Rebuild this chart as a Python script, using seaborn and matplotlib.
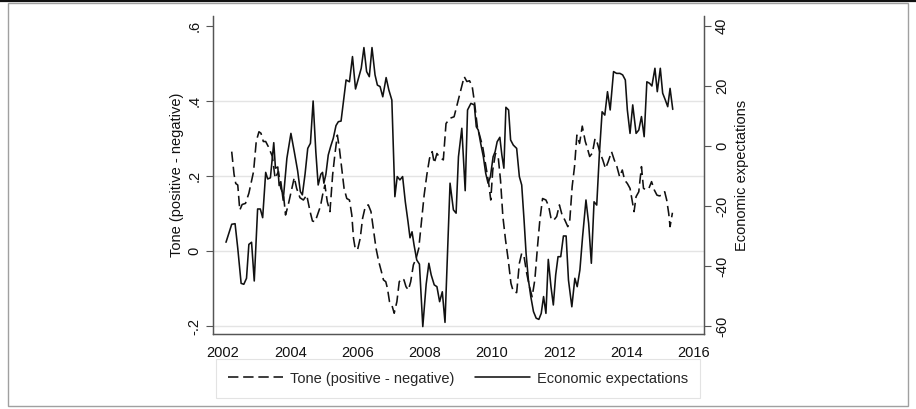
import matplotlib
matplotlib.use("Agg")
import matplotlib.pyplot as plt
from matplotlib.patches import Rectangle
from matplotlib.lines import Line2D
import pandas as pd
import seaborn as sns

# ---- data -----------------------------------------------------------------
TONE_LABEL = "Tone (positive - negative)"
EXPECT_LABEL = "Economic expectations"

tone_year = [
    2002.26, 2002.33, 2002.38, 2002.44, 2002.50, 2002.57, 2002.67, 2002.77,
    2002.91, 2002.99, 2003.07, 2003.13, 2003.20, 2003.27, 2003.35, 2003.47,
    2003.55, 2003.65, 2003.72, 2003.80, 2003.86, 2003.94, 2004.04, 2004.12,
    2004.19, 2004.29, 2004.39, 2004.49, 2004.59, 2004.66, 2004.74, 2004.81,
    2004.90, 2004.96, 2005.03, 2005.10, 2005.18, 2005.26, 2005.33, 2005.40,
    2005.46, 2005.53, 2005.60, 2005.68, 2005.76, 2005.83, 2005.88, 2005.93,
    2006.00, 2006.08, 2006.15, 2006.23, 2006.32, 2006.40, 2006.47, 2006.55,
    2006.63, 2006.71, 2006.77, 2006.84, 2006.89, 2006.95, 2007.02, 2007.09,
    2007.17, 2007.24, 2007.32, 2007.38, 2007.44, 2007.51, 2007.58, 2007.66,
    2007.74, 2007.82, 2007.90, 2007.98, 2008.06, 2008.14, 2008.22, 2008.28,
    2008.36, 2008.44, 2008.55, 2008.63, 2008.75, 2008.87, 2008.97, 2009.07,
    2009.17, 2009.25, 2009.33, 2009.41, 2009.48, 2009.56, 2009.64, 2009.72,
    2009.80, 2009.90, 2009.96, 2010.02, 2010.10, 2010.18, 2010.25, 2010.32,
    2010.40, 2010.48, 2010.56, 2010.63, 2010.73, 2010.81, 2010.88, 2010.95,
    2011.03, 2011.11, 2011.19, 2011.27, 2011.35, 2011.42, 2011.50, 2011.60,
    2011.68, 2011.76, 2011.84, 2011.92, 2012.00, 2012.08, 2012.16, 2012.25,
    2012.31, 2012.38, 2012.45, 2012.52, 2012.60, 2012.68, 2012.77, 2012.82,
    2012.90, 2012.98, 2013.06, 2013.13, 2013.21, 2013.29, 2013.37, 2013.45,
    2013.55, 2013.63, 2013.71, 2013.79, 2013.87, 2013.94, 2014.02, 2014.10,
    2014.16, 2014.22, 2014.28, 2014.36, 2014.44, 2014.50, 2014.58, 2014.66,
    2014.74, 2014.82, 2014.90, 2014.97, 2015.05, 2015.13, 2015.19, 2015.25,
    2015.29, 2015.36,
]
tone_value = [
    0.265, 0.204, 0.180, 0.176, 0.109, 0.124, 0.127, 0.154,
    0.212, 0.293, 0.318, 0.314, 0.292, 0.292, 0.278, 0.252,
    0.194, 0.212, 0.167, 0.149, 0.096, 0.123, 0.163, 0.196,
    0.167, 0.142, 0.136, 0.149, 0.105, 0.080, 0.078, 0.096,
    0.120, 0.149, 0.176, 0.132, 0.105, 0.203, 0.260, 0.309,
    0.274, 0.220, 0.167, 0.140, 0.136, 0.096, 0.034, 0.007,
    0.003, 0.034, 0.087, 0.118, 0.123, 0.105, 0.060, 0.007,
    -0.028, -0.055, -0.077, -0.082, -0.100, -0.135, -0.144, -0.166,
    -0.135, -0.082, -0.073, -0.077, -0.095, -0.104, -0.082, -0.037,
    -0.020, 0.007, 0.078, 0.149, 0.203, 0.247, 0.265, 0.234,
    0.260, 0.250, 0.243, 0.340, 0.354, 0.358, 0.394, 0.429,
    0.465, 0.452, 0.454, 0.438, 0.394, 0.332, 0.305, 0.278,
    0.234, 0.180, 0.136, 0.216, 0.260, 0.252, 0.189, 0.092,
    0.029, -0.024, -0.086, -0.108, -0.111, -0.033, -0.006, -0.015,
    -0.060, -0.095, -0.122, -0.077, 0.012, 0.083, 0.140, 0.136,
    0.120, 0.083, 0.083, 0.092, 0.123, 0.096, 0.083, 0.065,
    0.083, 0.172, 0.225, 0.309, 0.287, 0.333, 0.292, 0.278,
    0.252, 0.261, 0.300, 0.287, 0.261, 0.243, 0.220, 0.238,
    0.265, 0.243, 0.225, 0.198, 0.216, 0.189, 0.180, 0.167,
    0.136, 0.105, 0.145, 0.158, 0.225, 0.167, 0.163, 0.167,
    0.185, 0.163, 0.149, 0.147, 0.149, 0.158, 0.136, 0.100,
    0.065, 0.102,
]

expect_year = [
    2002.09, 2002.26, 2002.36, 2002.44, 2002.54, 2002.62, 2002.70, 2002.77,
    2002.85, 2002.93, 2003.03, 2003.11, 2003.18, 2003.27, 2003.33, 2003.41,
    2003.51, 2003.56, 2003.63, 2003.67, 2003.72, 2003.79, 2003.90, 2004.02,
    2004.12, 2004.22, 2004.30, 2004.36, 2004.44, 2004.52, 2004.60, 2004.68,
    2004.76, 2004.83, 2004.91, 2004.96, 2005.00, 2005.06, 2005.13, 2005.20,
    2005.28, 2005.36, 2005.43, 2005.51, 2005.58, 2005.66, 2005.76, 2005.85,
    2005.94, 2006.03, 2006.11, 2006.19, 2006.27, 2006.35, 2006.43, 2006.52,
    2006.59, 2006.67, 2006.75, 2006.85, 2006.93, 2007.02, 2007.11, 2007.18,
    2007.26, 2007.34, 2007.42, 2007.50, 2007.56, 2007.62, 2007.68, 2007.76,
    2007.84, 2007.94, 2008.04, 2008.12, 2008.19, 2008.28, 2008.36, 2008.44,
    2008.52, 2008.60, 2008.75, 2008.85, 2008.93, 2009.00, 2009.10, 2009.20,
    2009.27, 2009.37, 2009.47, 2009.53, 2009.59, 2009.66, 2009.74, 2009.81,
    2009.88, 2009.95, 2010.03, 2010.09, 2010.15, 2010.23, 2010.29, 2010.35,
    2010.41, 2010.49, 2010.55, 2010.63, 2010.73, 2010.81, 2010.88, 2010.95,
    2011.01, 2011.08, 2011.15, 2011.23, 2011.31, 2011.39, 2011.46, 2011.53,
    2011.60, 2011.67, 2011.75, 2011.82, 2011.89, 2011.96, 2012.04, 2012.12,
    2012.20, 2012.27, 2012.37, 2012.46, 2012.53, 2012.61, 2012.69, 2012.79,
    2012.87, 2012.95, 2013.03, 2013.11, 2013.19, 2013.27, 2013.35, 2013.43,
    2013.51, 2013.61, 2013.70, 2013.80, 2013.88, 2013.96, 2014.02, 2014.10,
    2014.18, 2014.28, 2014.36, 2014.44, 2014.52, 2014.60, 2014.68, 2014.75,
    2014.84, 2014.91, 2015.00, 2015.07, 2015.15, 2015.22, 2015.29, 2015.37,
]
expect_value = [
    -32.1, -26.1, -25.9, -34.1, -45.8, -46.1, -44.1, -32.8,
    -32.1, -45.0, -21.0, -21.0, -23.9, -8.8, -11.0, -10.6,
    1.1, -7.4, -7.0, -13.2, -11.9, -18.1, -4.1, 4.2,
    -1.9, -8.3, -15.2, -16.3, -9.4, -0.8, 0.9, 15.0,
    -1.9, -13.0, -9.4, -8.8, -12.4, -9.4, -3.0, -0.2,
    2.6, 6.8, 8.1, 8.3, 14.8, 22.0, 21.4, 29.8,
    19.0, 22.6, 25.9, 32.8, 24.8, 23.1, 32.8, 23.7,
    20.3, 19.8, 16.4, 22.8, 18.7, 15.3, -16.9, -10.2,
    -11.3, -10.2, -18.6, -25.2, -30.6, -28.6, -33.0, -38.0,
    -39.4, -60.2, -46.1, -39.1, -43.0, -46.3, -46.9, -51.9,
    -48.6, -58.8, -12.4, -21.3, -22.4, -3.6, 5.9, -14.9,
    12.0, 14.2, 13.7, 6.4, 5.3, 0.9, -3.6, -9.1,
    -12.4, -10.2, -3.6, -1.9, 1.4, 2.9, -3.0, -7.4,
    12.9, 12.0, 2.0, 0.3, -0.8, -10.2, -13.0, -24.7,
    -35.8, -44.7, -50.2, -55.2, -57.4, -57.8, -55.8, -50.2,
    -55.8, -37.8, -46.9, -53.0, -43.0, -36.9, -36.9, -30.0,
    -30.0, -44.7, -53.6, -44.1, -46.9, -41.3, -30.2, -18.0,
    -25.8, -39.1, -18.6, -19.7, -2.4, 11.4, 10.3, 18.1,
    12.0, 24.8, 24.2, 24.2, 23.7, 22.0, 12.0, 4.2,
    13.7, 4.2, 5.3, 9.8, 3.1, 21.4, 20.9, 20.0,
    25.9, 18.1, 25.9, 17.6, 15.3, 13.1, 19.2, 12.2,
]

year_ticks = [2002, 2004, 2006, 2008, 2010, 2012, 2014, 2016]
tone_ticks = [-0.2, 0.0, 0.2, 0.4, 0.6]
tone_ticklabels = ["-.2", "0", ".2", ".4", ".6"]
expect_ticks = [-60, -40, -20, 0, 20, 40]
expect_ticklabels = ["-60", "-40", "-20", "0", "20", "40"]

# ---- style ----------------------------------------------------------------
sns.set_theme(style="white")
plt.rcParams["font.family"] = ["Liberation Sans", "DejaVu Sans"]
FS = 10.5
INK = "#111111"
SPINE = "#555555"
LW = 1.15

tone_df = pd.DataFrame({"year": tone_year, "tone": tone_value})
expect_df = pd.DataFrame({"year": expect_year, "expect": expect_value})

fig = plt.figure(figsize=(9.16, 4.09), dpi=100)
fig.patch.set_facecolor("white")
ax = fig.add_axes([0.2325, 0.1834, 0.536, 0.7775])
ax2 = ax.twinx()

# light horizontal grid on the left scale
for t in tone_ticks[:-1]:
    ax.axhline(t, color="#e4e4e4", linewidth=1.0, zorder=0)

sns.lineplot(data=tone_df, x="year", y="tone", ax=ax, color=INK,
             linewidth=LW, estimator=None, sort=False, legend=False)
tone_line = ax.lines[-1]
tone_line.set_linestyle((0, (6.5, 3)))

sns.lineplot(data=expect_df, x="year", y="expect", ax=ax2, color=INK,
             linewidth=LW, estimator=None, sort=False, legend=False)
expect_line = ax2.lines[-1]

ax.set_xlim(2001.703, 2016.297)
ax.set_ylim(-0.2213, 0.6267)
ax2.set_ylim(-62.67, 43.33)

ax.set_xticks(year_ticks)
ax.set_xticklabels([str(y) for y in year_ticks], fontsize=FS, color=INK)
ax.set_yticks(tone_ticks)
ax.set_yticklabels(tone_ticklabels, rotation=90, va="center", fontsize=FS, color=INK)
ax2.set_yticks(expect_ticks)
ax2.set_yticklabels(expect_ticklabels, rotation=90, va="center", fontsize=FS, color=INK)

ax.set_xlabel("")
ax.set_ylabel(TONE_LABEL, fontsize=FS, color=INK, labelpad=3)
ax2.set_ylabel(EXPECT_LABEL, fontsize=FS, color=INK, rotation=90, labelpad=4)

for a in (ax, ax2):
    a.tick_params(axis="both", direction="out", length=5, width=0.8,
                  color=SPINE, pad=3)
    a.spines["top"].set_visible(False)
    for s in ("left", "right", "bottom"):
        a.spines[s].set_color(SPINE)
        a.spines[s].set_linewidth(0.9)
    a.grid(False)
ax.tick_params(axis="x", pad=4)
ax.set_facecolor("white")

leg = fig.legend([tone_line, expect_line], [TONE_LABEL, EXPECT_LABEL],
                 loc="center", bbox_to_anchor=(0.5, 0.0745), ncol=2,
                 frameon=True, fancybox=False, fontsize=FS,
                 handlelength=3.8, handletextpad=0.45, columnspacing=1.4,
                 borderpad=0.85)
leg.get_frame().set_edgecolor("#dcdcdc")
leg.get_frame().set_linewidth(0.8)

# outer frame of the graph region
fig.add_artist(Rectangle((8 / 916, 3 / 409), 900 / 916, 403 / 409,
                         transform=fig.transFigure, fill=False,
                         edgecolor="#a0a0a0", linewidth=1.0))
fig.add_artist(Line2D([0, 1], [1 - 1.2 / 409] * 2, transform=fig.transFigure,
                      color="#111111", linewidth=1.6))

fig.savefig("out.png", dpi=100, facecolor="white")
